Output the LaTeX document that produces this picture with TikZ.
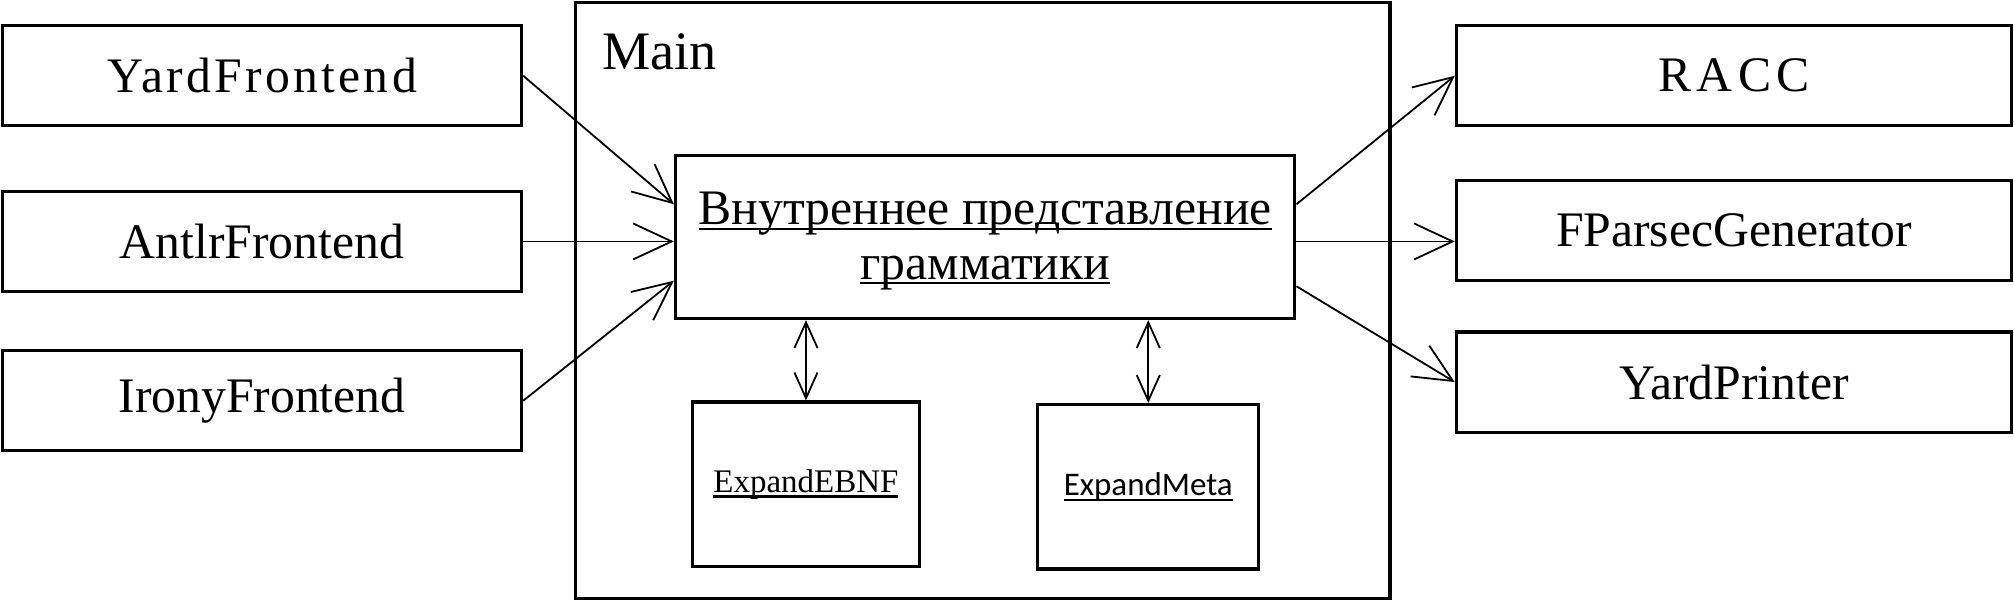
\documentclass[tikz,border=0pt]{standalone}
\usepackage{fontspec}
\setmainfont{Liberation Serif}
\newfontfamily\carlito{Carlito}
\newfontfamily\widefont[LetterSpace=6.6]{Liberation Serif}
\newfontfamily\widerfont[LetterSpace=11]{Liberation Serif}
\usetikzlibrary{arrows.meta}
\newcommand{\undertext}[1]{\setbox0\hbox{#1}\rlap{\rule[-1.2pt]{\wd0}{0.5pt}}\box0}

\begin{document}
\begin{tikzpicture}[x=0.01cm,y=-0.01cm,
  box/.style={draw,line width=0.7pt,inner sep=0pt,font=\fontsize{11}{12}\selectfont},
  link/.style={line width=0.4pt,-{Straight Barb[length=3mm,width=2.8mm]}},
  twolink/.style={line width=0.4pt,{Straight Barb[length=2mm,width=1.8mm]}-{Straight Barb[length=2mm,width=1.8mm]}}]
\useasboundingbox (0,0) rectangle (1568,468);
\node[box,minimum width=6.34cm,minimum height=4.64cm] (main) at (765,234) {};%Main
\node[anchor=base west,inner sep=0pt,font=\fontsize{12}{14}\selectfont] (mainname) at (468,54) {Main};
\node[box,minimum width=4.82cm,minimum height=1.27cm] (inner) at (767,184.5) {};
\node[anchor=north,inner sep=0pt,align=center,font=\fontsize{11}{12}\selectfont] (innertext) at (767,149)
  {\undertext{Внутреннее представление}\\\undertext{грамматики}};
\node[box,minimum width=1.77cm,minimum height=1.28cm,font=\fontsize{7.3}{9}\selectfont] (ebnf) at (627.5,377) {\undertext{ExpandEBNF}};
\node[box,minimum width=1.72cm,minimum height=1.28cm,font=\fontsize{7.3}{9}\carlito] (meta) at (894,379) {\undertext{ExpandMeta}};
\foreach \name / \label / \y in {yard/{\widefont YardFrontend}/59, antlr/AntlrFrontend/188, irony/IronyFrontend/312}
  \node[box,minimum width=4.04cm,minimum height=0.78cm] (\name) at (204,\y) {\label};%входы
\foreach \name / \label / \y in {racc/{\widerfont RACC}/59, fparsec/FParsecGenerator/179.5, printer/YardPrinter/297.5}
  \node[box,minimum width=4.32cm,minimum height=0.78cm] (\name) at (1350,\y) {\label};%выходы
\draw[link] (yard.east) -- (inner.174);
\draw[link] (antlr.east) -- (antlr.east -| inner.west);
\draw[link] (irony.east) -- (inner.188);
\draw[link] (inner.6) -- (racc.west);
\draw[link] (inner.east |- antlr.east) -- (fparsec.west |- antlr.east);
\draw[link] (inner.351) -- (printer.west);
\draw[twolink] (ebnf.north |- inner.south) -- (ebnf.north);
\draw[twolink] (meta.north |- inner.south) -- (meta.north);
\end{tikzpicture}
\end{document}
